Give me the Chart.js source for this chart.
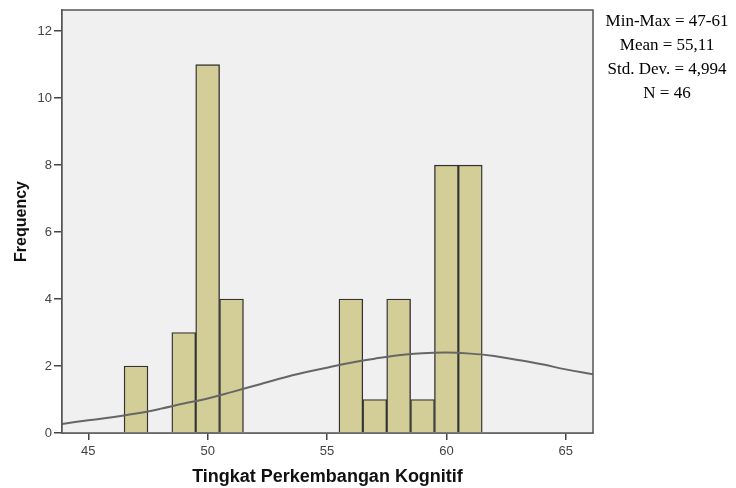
<!DOCTYPE html>
<html>
<head>
<meta charset="utf-8">
<script src="https://cdn.jsdelivr.net/npm/chart.js@4.4.0/dist/chart.umd.min.js"></script>
<style>
  html, body { margin: 0; padding: 0; background: #fff; }
</style>
</head>
<body>
<canvas id="hist-canvas" width="736" height="488"></canvas>
<script>
// Histogram bins (score -> frequency)
const scores = [47, 49, 50, 51, 56, 57, 58, 59, 60, 61];
const frequencies = [2, 3, 11, 4, 4, 1, 4, 1, 8, 8];

// Normal curve
const curveX = [43.9, 45, 46, 47, 48, 49, 50, 51, 52, 53, 54, 55, 56, 57, 58, 59, 60, 61, 62, 63, 64, 65, 66.14];
const curveY = [0.27, 0.38, 0.47, 0.58, 0.72, 0.88, 1.03, 1.22, 1.42, 1.62, 1.80, 1.95, 2.10, 2.22, 2.32, 2.38, 2.40, 2.37, 2.30, 2.18, 2.05, 1.90, 1.75];

const xTicks = [45, 50, 55, 60, 65];
const yTicks = [0, 2, 4, 6, 8, 10, 12];

const statLines = ["Min-Max = 47-61", "Mean = 55,11", "Std. Dev. = 4,994", "N = 46"];

// plot frame + grey background + stats text
const framePlugin = {
  id: "frame",
  beforeDatasetsDraw(chart) {
    const { ctx, chartArea: a } = chart;
    ctx.save();
    ctx.fillStyle = "#f0f0f0";
    ctx.fillRect(a.left, a.top, a.right - a.left, a.bottom - a.top);
    ctx.restore();
  },
  afterDraw(chart) {
    const { ctx, chartArea: a } = chart;
    ctx.save();
    ctx.strokeStyle = "#555";
    ctx.lineWidth = 1.5;
    ctx.strokeRect(a.left, a.top, a.right - a.left, a.bottom - a.top);
    ctx.fillStyle = "#000";
    ctx.font = "17px 'Liberation Serif'";
    ctx.textAlign = "center";
    ctx.textBaseline = "middle";
    statLines.forEach((t, i) => ctx.fillText(t, 667, 22 + i * 23.7));
    ctx.restore();
  }
};

const histCanvas = document.getElementById("hist-canvas");

new Chart(histCanvas, {
  type: "bar",
  data: {
    datasets: [
      {
        type: "line",
        data: curveX.map((x, i) => ({ x: x, y: curveY[i] })),
        borderColor: "#666",
        borderWidth: 2,
        pointRadius: 0,
        tension: 0.4,
        fill: false,
        order: 0,
      },
      {
        type: "bar",
        data: scores.map((x, i) => ({ x: x, y: frequencies[i] })),
        backgroundColor: "#d3ce97",
        borderColor: "#333",
        borderWidth: 1.4,
        barPercentage: 1,
        categoryPercentage: 1,
        grouped: false,
        order: 1,
      },
    ],
  },
  options: {
    responsive: false,
    animation: false,
    devicePixelRatio: 1,
    layout: { padding: { left: 12, right: 143, top: 10, bottom: 0 } },
    plugins: { legend: { display: false }, tooltip: { enabled: false } },
    scales: {
      x: {
        type: "linear",
        offset: false,
        min: 43.9,
        max: 66.14,
        afterBuildTicks: (s) => { s.ticks = xTicks.map((v) => ({ value: v })); },
        afterFit: (s) => { s.height = 55; },
        grid: { offset: false, drawOnChartArea: false, drawTicks: true, tickLength: 7, color: "#444", lineWidth: 1.5 },
        border: { color: "#555", width: 1.5 },
        ticks: { color: "#444", font: { family: "Liberation Sans", size: 13 }, padding: 4 },
        title: {
          display: true,
          text: "Tingkat Perkembangan Kognitif",
          color: "#111",
          font: { family: "Liberation Sans", size: 18, weight: "bold" },
          padding: { top: 0, bottom: 0 },
        },
      },
      y: {
        min: 0,
        max: 12.63,
        afterBuildTicks: (s) => { s.ticks = yTicks.map((v) => ({ value: v })); },
        afterFit: (s) => { s.width = 50; },
        grid: { drawOnChartArea: false, drawTicks: true, tickLength: 8, color: "#444", lineWidth: 1.5 },
        border: { color: "#555", width: 1.5 },
        ticks: { color: "#444", font: { family: "Liberation Sans", size: 13 }, padding: 2 },
        title: {
          display: true,
          text: "Frequency",
          color: "#111",
          font: { family: "Liberation Sans", size: 16, weight: "bold" },
          padding: { top: 0, bottom: 0 },
        },
      },
    },
  },
  plugins: [framePlugin],
});
</script>
</body>
</html>
